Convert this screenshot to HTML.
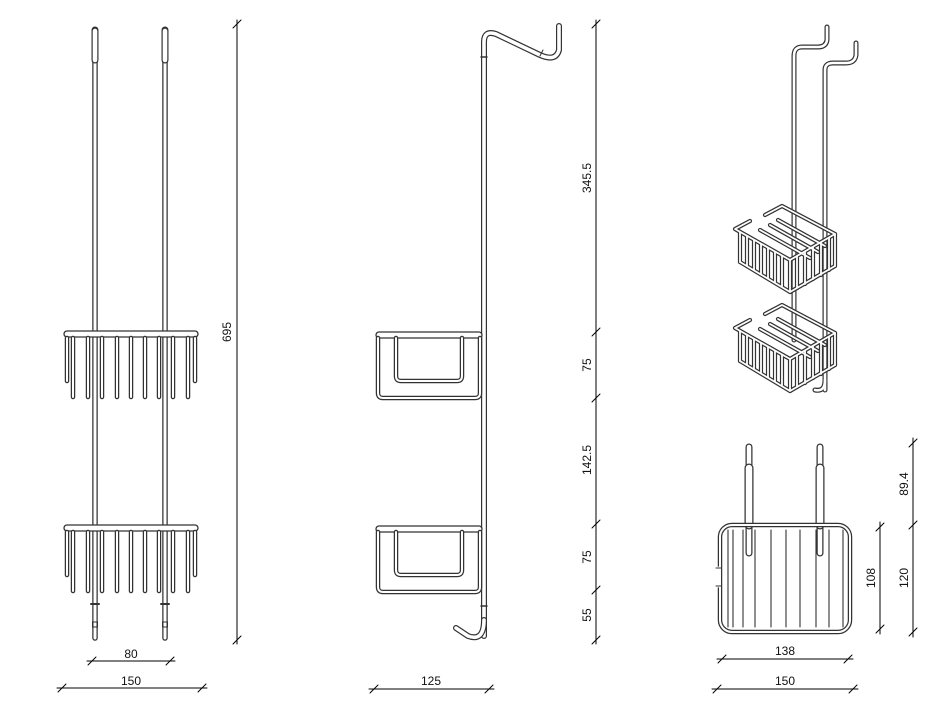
<!DOCTYPE html>
<html><head><meta charset="utf-8"><style>
html,body{margin:0;padding:0;background:#fff}
svg{display:block}
text{font-family:"Liberation Sans",sans-serif;font-size:12px;fill:#111}
</style></head><body>
<svg width="937" height="716" viewBox="0 0 937 716" xmlns="http://www.w3.org/2000/svg">
<defs>
<g id="tick"><line x1="-4" y1="4" x2="4" y2="-4" stroke="#000" stroke-width="1"/></g>
</defs>
<g fill="none" stroke-linecap="round" stroke-linejoin="round">

<!-- ===== FRONT VIEW ===== -->
<g id="rodF">
<path d="M95 30 V638" stroke="#333" stroke-width="5.5"/>
<path d="M95 30 V638" stroke="#fff" stroke-width="3"/>
<path d="M95 30 V60" stroke="#333" stroke-width="7"/>
<path d="M95 31 V60" stroke="#fff" stroke-width="4.6"/>
<line x1="91" y1="604" x2="99" y2="604" stroke="#333" stroke-width="2"/>
<rect x="92.5" y="622" width="5" height="5" stroke="#333" stroke-width="1"/>
</g>
<use href="#rodF" x="70"/>
<g id="bskF">
<rect x="64" y="331" width="134" height="6" rx="3" stroke="#333" stroke-width="1.3" fill="#fff"/>
<g stroke="#333" stroke-width="4.5">
<path d="M67 338V381M195 338V381M73 338V397M88 338V397M102 338V397M117 338V397M131 338V397M145 338V397M159 338V397M173 338V397M188 338V397"/>
</g>
<g stroke="#fff" stroke-width="2">
<path d="M67 338V381M195 338V381M73 338V397M88 338V397M102 338V397M117 338V397M131 338V397M145 338V397M159 338V397M173 338V397M188 338V397"/>
</g>
</g>
<use href="#bskF" y="194"/>

<!-- front dims -->
<g stroke="#000" stroke-width="1">
<line x1="237" y1="20" x2="237" y2="644"/>
<line x1="87" y1="661" x2="175" y2="661"/>
<line x1="57" y1="688" x2="207" y2="688"/>
</g>
<use href="#tick" x="237" y="24"/><use href="#tick" x="237" y="640"/>
<use href="#tick" x="92" y="661"/><use href="#tick" x="170" y="661"/>
<use href="#tick" x="62" y="688"/><use href="#tick" x="202" y="688"/>
<text x="228" y="332" transform="rotate(-90 228 332)" text-anchor="middle" dominant-baseline="middle">695</text>
<text x="131" y="658" text-anchor="middle">80</text>
<text x="131" y="685" text-anchor="middle">150</text>

<!-- ===== SIDE VIEW ===== -->
<path d="M484 636 V42 Q484 30 496 34 L540 55 Q556 62 559 50 V26" stroke="#333" stroke-width="6"/>
<path d="M484 636 V42 Q484 30 496 34 L540 55 Q556 62 559 50 V26" stroke="#fff" stroke-width="3.6"/>
<path d="M484 620 Q484 642 468 636 L456 628" stroke="#333" stroke-width="6"/>
<path d="M484 620 Q484 642 468 636 L456 628" stroke="#fff" stroke-width="3.6"/>
<path d="M481 57h6M481 606h6" stroke="#333" stroke-width="1.5"/>
<path d="M543 50l-3 6" stroke="#333" stroke-width="1"/>
<g id="bskS">
<rect x="376" y="332" width="106" height="6" rx="3" stroke="#333" stroke-width="1.3" fill="#fff"/>
<path d="M378 338 V393 Q378 398 383 398 H475 Q480 398 480 393 V338" stroke="#333" stroke-width="4.5"/>
<path d="M378 338 V393 Q378 398 383 398 H475 Q480 398 480 393 V338" stroke="#fff" stroke-width="2"/>
<path d="M396 338 V376 Q396 381 401 381 H457 Q462 381 462 376 V338" stroke="#333" stroke-width="4.5"/>
<path d="M396 338 V376 Q396 381 401 381 H457 Q462 381 462 376 V338" stroke="#fff" stroke-width="2"/>
</g>
<use href="#bskS" y="194"/>
<g stroke="#000" stroke-width="1">
<line x1="596" y1="20" x2="596" y2="644"/>
<line x1="369" y1="689" x2="494" y2="689"/>
</g>
<use href="#tick" x="596" y="24"/><use href="#tick" x="596" y="332"/><use href="#tick" x="596" y="398"/>
<use href="#tick" x="596" y="524"/><use href="#tick" x="596" y="590"/><use href="#tick" x="596" y="640"/>
<use href="#tick" x="374" y="689"/><use href="#tick" x="489" y="689"/>
<text x="588" y="178" transform="rotate(-90 588 178)" text-anchor="middle" dominant-baseline="middle">345.5</text>
<text x="588" y="365" transform="rotate(-90 588 365)" text-anchor="middle" dominant-baseline="middle">75</text>
<text x="588" y="460" transform="rotate(-90 588 460)" text-anchor="middle" dominant-baseline="middle">142.5</text>
<text x="588" y="557" transform="rotate(-90 588 557)" text-anchor="middle" dominant-baseline="middle">75</text>
<text x="588" y="615" transform="rotate(-90 588 615)" text-anchor="middle" dominant-baseline="middle">55</text>
<text x="431" y="685" text-anchor="middle">125</text>

<!-- ===== ISO VIEW ===== -->
<g stroke="#333" stroke-width="5"><path d="M794 340 V56 Q794 47 802 47 H818 Q826 47 827 40 V27"/><path d="M825 390 V70 Q825 63 833 63 H846 Q855 63 856 55 V43"/><path d="M825 380 Q825 392 815 390"/></g>
<g stroke="#fff" stroke-width="2.6"><path d="M794 340 V56 Q794 47 802 47 H818 Q826 47 827 40 V27"/><path d="M825 390 V70 Q825 63 833 63 H846 Q855 63 856 55 V43"/><path d="M825 380 Q825 392 815 390"/></g>
<g id="bskI">
<g stroke="#333" stroke-width="4.2">
<path d="M750 221 L735 229 L790 260 L835 234 L782 206 L765 215"/>
<path d="M740 232V262M747 236V266M754 240V270M761 244V274M768 248V278M775 252V282M782 256V286M790 260V292M797 256V288M805 252V284M813 247V279M821 243V275M829 238V270M835 234V266"/>
<path d="M740 262 L790 292 L835 266"/>
<path d="M760 230 L810 258 M770 225 L818 252 M778 220 L825 246"/>
</g>
<g stroke="#fff" stroke-width="1.8">
<path d="M750 221 L735 229 L790 260 L835 234 L782 206 L765 215"/>
<path d="M740 232V262M747 236V266M754 240V270M761 244V274M768 248V278M775 252V282M782 256V286M790 260V292M797 256V288M805 252V284M813 247V279M821 243V275M829 238V270M835 234V266"/>
<path d="M740 262 L790 292 L835 266"/>
<path d="M760 230 L810 258 M770 225 L818 252 M778 220 L825 246"/>
</g>
</g>
<use href="#bskI" y="99"/>

<!-- ===== TOP VIEW ===== -->
<g id="rodT">
<path d="M749 447 V553" stroke="#333" stroke-width="7"/>
<path d="M749 447 V553" stroke="#fff" stroke-width="4.5"/>
<path d="M749 468 V525" stroke="#333" stroke-width="9"/>
<path d="M749 468 V525" stroke="#fff" stroke-width="6.5"/>
</g>
<use href="#rodT" x="71"/>
<rect x="720" y="525" width="130" height="107" rx="12" stroke="#333" stroke-width="4.5"/>
<rect x="720" y="525" width="130" height="107" rx="12" stroke="#fff" stroke-width="2"/>
<g stroke="#333" stroke-width="1.1">
<path d="M728 530V627M733 530V627M743 530V627M755 530V627M771 530V627M786 530V627M800 530V627M816 530V627M829 530V627M843 530V627"/>
<path d="M718 568V586" stroke="#fff" stroke-width="3"/>
<path d="M716 568h5M716 586h5"/>
</g>
<g stroke="#000" stroke-width="1">
<line x1="880" y1="522" x2="880" y2="634"/>
<line x1="913" y1="438" x2="913" y2="637"/>
<line x1="717" y1="659" x2="853" y2="659"/>
<line x1="712" y1="689" x2="858" y2="689"/>
</g>
<use href="#tick" x="880" y="527"/><use href="#tick" x="880" y="629"/>
<use href="#tick" x="913" y="443"/><use href="#tick" x="913" y="525"/><use href="#tick" x="913" y="632"/>
<use href="#tick" x="722" y="659"/><use href="#tick" x="848" y="659"/>
<use href="#tick" x="717" y="689"/><use href="#tick" x="853" y="689"/>
<text x="872" y="578" transform="rotate(-90 872 578)" text-anchor="middle" dominant-baseline="middle">108</text>
<text x="905" y="578" transform="rotate(-90 905 578)" text-anchor="middle" dominant-baseline="middle">120</text>
<text x="905" y="484" transform="rotate(-90 905 484)" text-anchor="middle" dominant-baseline="middle">89.4</text>
<text x="785" y="655" text-anchor="middle">138</text>
<text x="785" y="685" text-anchor="middle">150</text>
</g>
</svg>
</body></html>
